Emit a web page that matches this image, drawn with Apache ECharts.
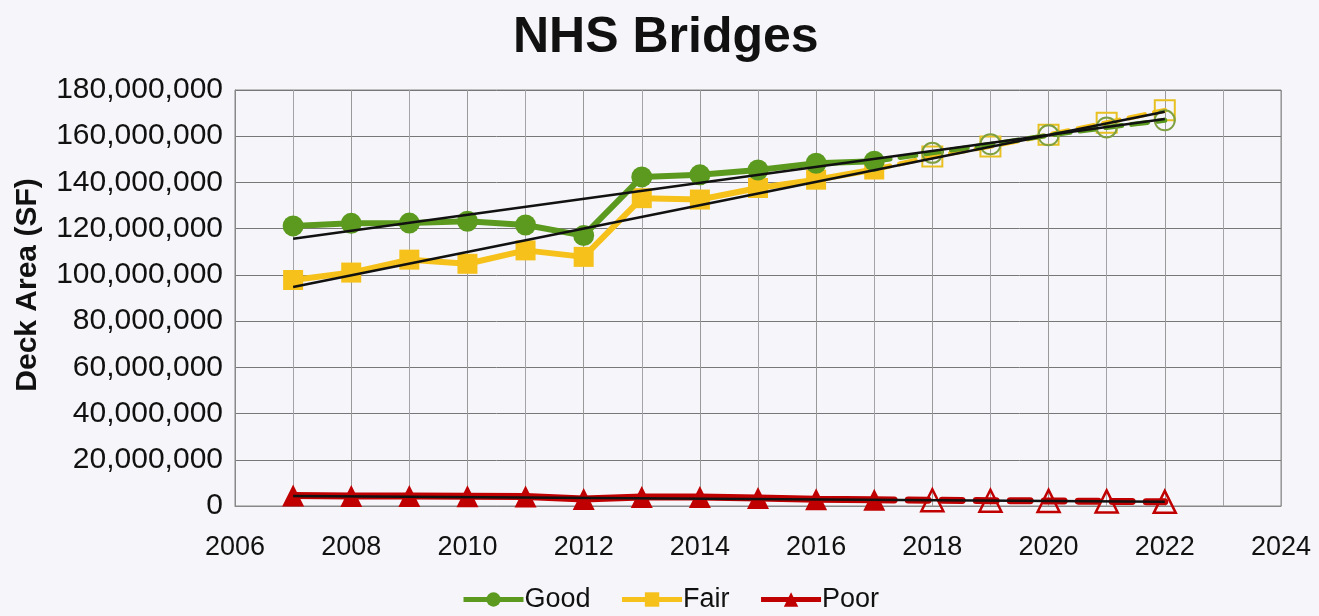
<!DOCTYPE html>
<html><head><meta charset="utf-8">
<script src="https://cdn.jsdelivr.net/npm/echarts@6/dist/echarts.min.js"></script>
<style>html,body{margin:0;padding:0;background:#f6f6fa;}#c{width:1319px;height:616px;}</style>
</head><body><div id="c"></div>
<script>
const years = [2007,2008,2009,2010,2011,2012,2013,2014,2015,2016,2017];
const projYears = [2017,2018,2019,2020,2021,2022];
const good = [121.2,122.3,122.4,123.2,121.6,117.0,142.4,143.3,145.4,148.3,149.2];
const fair = [97.8,101.0,106.6,104.8,110.6,107.8,133.2,132.6,137.6,141.2,145.6];
const poor = [4.5,4.3,4.3,4.2,4.1,3.0,3.9,3.9,3.5,2.9,2.7];
const goodProj = [149.2,152.8,156.5,160.4,163.8,166.9];
const fairProj = [145.6,151.2,155.6,160.6,165.8,171.2];
const poorProj = [2.7,2.5,2.3,2.2,2.0,1.8];
const trendYears = [2007,2022];
const goodTrend = [115.6,167.5];
const fairTrend = [94.8,170.6];
const poorTrend = [4.3,1.8];
const M = 1e6;
const pair = (xs, ys) => xs.map((x,i)=>[x, ys[i]*M]);
const projPair = (xs, ys) => xs.map((x,i)=> i===0 ? {value:[x, ys[i]*M], symbol:'none'} : [x, ys[i]*M]);
const cG = '#5b9a1f', cF = '#f5c11a', cP = '#c00000';
const font = 'Liberation Sans, Arial, sans-serif';
const chart = echarts.init(document.getElementById('c'));
chart.setOption({
  backgroundColor: '#f6f6fa',
  animation: false,
  title: {text: 'NHS Bridges', left: 508, top: 8, textStyle: {fontFamily: font, fontSize: 50, fontWeight: 'bold', color: '#111'}},
  grid: {left: 235, right: 38, top: 90, bottom: 110, show: true, backgroundColor: '#f6f6fa', borderColor: '#888', borderWidth: 1},
  legend: {bottom: -2, left: 456, itemWidth: 60, itemHeight: 18, itemGap: 29,
    data: ['Good','Fair','Poor'], lineStyle: {width: 5},
    textStyle: {fontFamily: font, fontSize: 27, color: '#111', padding:[0,0,0,-4]}},
  xAxis: {type: 'value', min: 2006, max: 2024, interval: 2,
    axisLine: {show: true, lineStyle: {color: '#888'}}, axisTick: {show: false},
    axisLabel: {fontFamily: font, fontSize: 27, color: '#111', margin: 28, formatter: v => String(v)},
    splitLine: {show: true, lineStyle: {color: '#999', width: 1}},
    minorTick: {show: false, splitNumber: 2},
    minorSplitLine: {show: true, lineStyle: {color: '#a4a4a8', width: 1}}},
  yAxis: {type: 'value', min: 0, max: 180*M, interval: 20*M,
    name: 'Deck Area (SF)', nameLocation: 'middle', nameGap: 192, nameRotate: 90,
    nameTextStyle: {fontFamily: font, fontSize: 30, fontWeight: 'bold', color: '#111', padding: [0,0,0,26]},
    axisLine: {show: true, lineStyle: {color: '#888'}}, axisTick: {show: false},
    axisLabel: {fontFamily: font, fontSize: 30, color: '#111', margin: 12, formatter: v => v.toLocaleString('en-US')},
    splitLine: {show: true, lineStyle: {color: '#777', width: 1}}},
  series: [
    {name: 'Good', type: 'line', data: pair(years, good), symbol: 'circle', symbolSize: 21, z: 3,
      lineStyle: {color: cG, width: 6}, itemStyle: {color: cG}},
    {name: 'Fair', type: 'line', data: pair(years, fair), symbol: 'rect', symbolSize: 20, z: 2,
      lineStyle: {color: cF, width: 6}, itemStyle: {color: cF}},
    {name: 'Poor', type: 'line', data: pair(years, poor), symbol: 'triangle', symbolSize: 22, z: 3,
      lineStyle: {color: cP, width: 7}, itemStyle: {color: cP}},
    {name: 'Good proj', type: 'line', data: projPair(projYears, goodProj), symbol: 'circle', symbolSize: 20, z: 3,
      lineStyle: {color: cG, width: 5, type: [16,10], cap: 'round'}, itemStyle: {color: 'rgba(0,0,0,0)', borderColor: '#7fa040', borderWidth: 2}},
    {name: 'Fair proj', type: 'line', data: projPair(projYears, fairProj), symbol: 'rect', symbolSize: 20, z: 2,
      lineStyle: {color: cF, width: 5, type: [16,10], cap: 'round'}, itemStyle: {color: 'rgba(0,0,0,0)', borderColor: '#e8c020', borderWidth: 2}},
    {name: 'Poor proj', type: 'line', data: projPair(projYears, poorProj), symbol: 'triangle', symbolSize: 22, z: 3,
      lineStyle: {color: cP, width: 7, type: [20,14], cap: 'round'}, itemStyle: {color: 'rgba(0,0,0,0)', borderColor: cP, borderWidth: 2.5}},
    {name: 'Good trend', type: 'line', data: pair(trendYears, goodTrend), symbol: 'none', z: 5, silent: true,
      lineStyle: {color: '#111', width: 2.5}},
    {name: 'Fair trend', type: 'line', data: pair(trendYears, fairTrend), symbol: 'none', z: 5, silent: true,
      lineStyle: {color: '#111', width: 2.5}},
    {name: 'Poor trend', type: 'line', data: pair(trendYears, poorTrend), symbol: 'none', z: 5, silent: true,
      lineStyle: {color: '#111', width: 2.5}}
  ]
});
</script></body></html>
